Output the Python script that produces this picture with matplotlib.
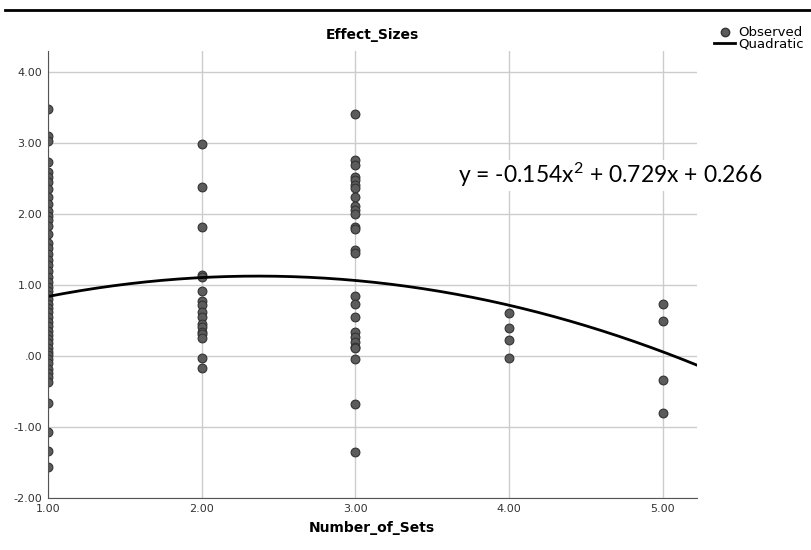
import numpy as np
import matplotlib
matplotlib.use('Agg')
import matplotlib.pyplot as plt
from matplotlib.lines import Line2D
from matplotlib.path import Path

# observed effect sizes per number of sets
sets_1 = [3.48, 3.11, 3.04, 2.74, 2.60, 2.52, 2.45, 2.36, 2.25, 2.15, 2.05, 1.98,
          1.92, 1.84, 1.72, 1.60, 1.52, 1.44, 1.36, 1.28, 1.20, 1.12, 1.05, 0.98,
          0.92, 0.86, 0.80, 0.74, 0.68, 0.62, 0.55, 0.48, 0.42, 0.36, 0.30, 0.24,
          0.18, 0.12, 0.06, 0.02, -0.04, -0.10, -0.18, -0.24, -0.30, -0.36,
          -0.66, -1.07, -1.34, -1.56]
sets_2 = [2.99, 2.38, 1.82, 1.15, 1.12, 0.92, 0.78, 0.72, 0.62, 0.55, 0.46, 0.41,
          0.34, 0.31, 0.25, -0.03, -0.16]
sets_3 = [3.42, 2.76, 2.70, 2.52, 2.48, 2.42, 2.37, 2.24, 2.11, 2.06, 2.01, 1.82,
          1.79, 1.50, 1.46, 0.85, 0.73, 0.55, 0.34, 0.27, 0.20, 0.13, 0.11, -0.04,
          -0.68, -1.35]
sets_4 = [0.61, 0.39, 0.23, -0.03]
sets_5 = [0.73, 0.50, -0.34, -0.80]

coef = [-0.154, 0.729, 0.266]

x_ticks = [1, 2, 3, 4, 5]
x_labels = ['1.00', '2.00', '3.00', '4.00', '5.00']
y_ticks = [-2, -1, 0, 1, 2, 3, 4]
y_labels = ['-2.00', '-1.00', '.00', '1.00', '2.00', '3.00', '4.00']

plt.rcParams['mathtext.fontset'] = 'custom'
plt.rcParams['mathtext.rm'] = 'Lato'
plt.rcParams['mathtext.it'] = 'Lato'

fig = plt.figure(figsize=(8.11, 5.5), dpi=100)
ax = fig.add_axes([0.059, 0.0945, 0.8, 0.8125])

pt = dict(facecolor='#5c5c5c', edgecolor='#333333', linewidth=0.8, zorder=3)

# points on the y axis only show their right half
t = np.linspace(-np.pi / 2, np.pi / 2, 40)
half = Path(np.column_stack([np.cos(t), np.sin(t)]).tolist() + [[0, -1]],
            closed=True)
ax.scatter([1] * len(sets_1), sets_1, s=40, marker=half, **pt)

xs, ys = [], []
for k, vals in enumerate([sets_2, sets_3, sets_4, sets_5], start=2):
    xs += [k] * len(vals)
    ys += vals
ax.scatter(xs, ys, s=40, **pt)

xc = np.linspace(1, 5.22, 200)
ax.plot(xc, np.polyval(coef, xc), color='black', linewidth=2, zorder=4)

ax.set_xlim(1, 5.22)
ax.set_ylim(-2, 4.3)
ax.set_xticks(x_ticks)
ax.set_xticklabels(x_labels)
ax.set_yticks(y_ticks)
ax.set_yticklabels(y_labels)
ax.tick_params(labelsize=8, colors='#333333', length=0, pad=4)
ax.grid(True, color='#cccccc', linewidth=1)
ax.set_axisbelow(True)
for s in ['top', 'right']:
    ax.spines[s].set_visible(False)
for s in ['left', 'bottom']:
    ax.spines[s].set_color('#555555')
    ax.spines[s].set_zorder(5)

ax.set_title('Effect_Sizes', fontsize=10, fontweight='bold', pad=9)
ax.set_xlabel('Number_of_Sets', fontsize=10, fontweight='bold', labelpad=5)

ax.text(4.66, 2.55, 'y = -0.154x$^\\mathrm{2}$ + 0.729x + 0.266', fontsize=16.5,
        family='Lato', ha='center', va='center', zorder=5, clip_on=False,
        bbox=dict(facecolor='white', edgecolor='none', pad=1))

handles = [Line2D([], [], marker='o', linestyle='none', markersize=6,
                  markerfacecolor='#5c5c5c', markeredgecolor='#333333'),
           Line2D([], [], color='black', linewidth=2)]
fig.legend(handles, ['Observed', 'Quadratic'], loc='upper left',
           bbox_to_anchor=(0.874, 0.962), frameon=False, fontsize=9.5,
           handlelength=1.6, handletextpad=0.2, labelspacing=-0.1,
           borderaxespad=0)

fig.add_artist(Line2D([0.006, 1], [0.982, 0.982], color='black', linewidth=2))

fig.savefig('out.png', dpi=100)
